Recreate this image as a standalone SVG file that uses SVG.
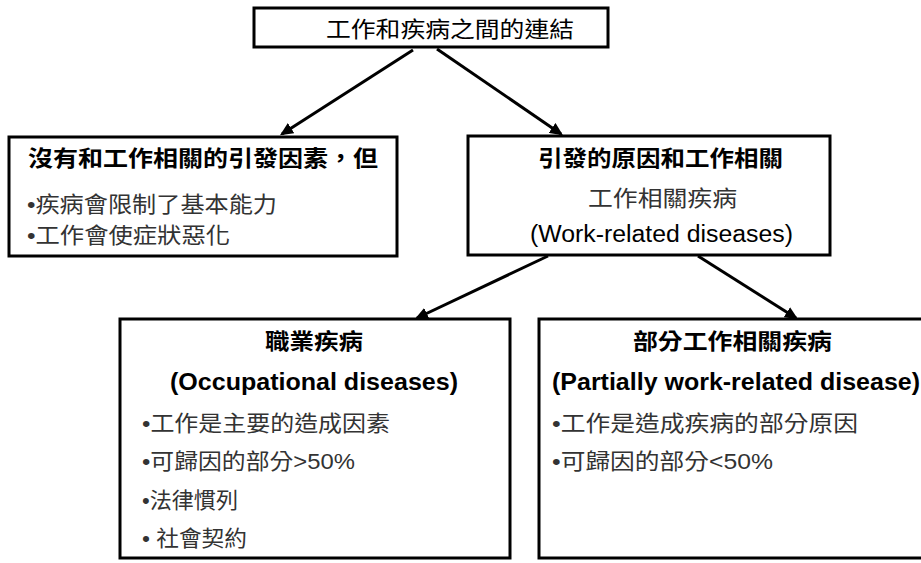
<svg xmlns="http://www.w3.org/2000/svg" width="921" height="563" viewBox="0 0 921 563">
<style>
.box{fill:#fff;stroke:#000;stroke-width:3}
text{font-family:"Liberation Sans","Noto Sans CJK TC",sans-serif;font-size:22px;fill:#000}
.t{font-weight:bold}
.en{font-size:23px}
.b{fill:#333}
.c{stroke:#000;stroke-width:3;fill:none;marker-end:url(#ah)}
</style>
<defs>
<marker id="ah" markerWidth="4.4" markerHeight="4" refX="3.6" refY="2" orient="auto" markerUnits="strokeWidth">
<path d="M0,0 L4.4,2 L0,4 z" fill="#000"/>
</marker>
</defs>
<g id="connectors">
<line class="c" x1="413" y1="50" x2="282" y2="134"/>
<line class="c" x1="437" y1="49" x2="561" y2="134"/>
<line class="c" x1="548" y1="256" x2="417" y2="318"/>
<line class="c" x1="698" y1="256" x2="796" y2="318"/>
</g>
<g id="top">
<rect class="box" x="254" y="8" width="354" height="39"/>
<text x="326" y="37" textLength="248" lengthAdjust="spacingAndGlyphs">工作和疾病之間的連結</text>
</g>
<g id="left">
<rect class="box" x="9" y="137" width="388" height="119"/>
<text class="t" x="28" y="166" textLength="350" lengthAdjust="spacingAndGlyphs">沒有和工作相關的引發因素，但</text>
<text class="b" x="27" y="212" textLength="250" lengthAdjust="spacingAndGlyphs">•疾病會限制了基本能力</text>
<text class="b" x="27" y="243" textLength="203" lengthAdjust="spacingAndGlyphs">•工作會使症狀惡化</text>
</g>
<g id="middle">
<rect class="box" x="468" y="136" width="362" height="119"/>
<text class="t" x="538" y="166" textLength="245" lengthAdjust="spacingAndGlyphs">引發的原因和工作相關</text>
<text class="b" x="588" y="206" textLength="149" lengthAdjust="spacingAndGlyphs">工作相關疾病</text>
<text class="en" x="530" y="242" textLength="263" lengthAdjust="spacingAndGlyphs">(Work-related diseases)</text>
</g>
<g id="occupational">
<rect class="box" x="120" y="319" width="390" height="239"/>
<text class="t" x="265" y="349" textLength="98" lengthAdjust="spacingAndGlyphs">職業疾病</text>
<text class="t en" x="170" y="390" textLength="288" lengthAdjust="spacingAndGlyphs">(Occupational diseases)</text>
<text class="b" x="142" y="431" textLength="248" lengthAdjust="spacingAndGlyphs">•工作是主要的造成因素</text>
<text class="b" x="142" y="469" textLength="213" lengthAdjust="spacingAndGlyphs">•可歸因的部分&gt;50%</text>
<text class="b" x="142" y="508" textLength="96" lengthAdjust="spacingAndGlyphs">•法律慣列</text>
<text class="b" x="142" y="546" textLength="105" lengthAdjust="spacingAndGlyphs">• 社會契約</text>
</g>
<g id="partial">
<rect class="box" x="539" y="319" width="386" height="239"/>
<text class="t" x="633" y="349" textLength="199" lengthAdjust="spacingAndGlyphs">部分工作相關疾病</text>
<text class="t en" x="552" y="390" textLength="368" lengthAdjust="spacingAndGlyphs">(Partially work-related disease)</text>
<text class="b" x="552" y="431" textLength="306" lengthAdjust="spacingAndGlyphs">•工作是造成疾病的部分原因</text>
<text class="b" x="552" y="469" textLength="221" lengthAdjust="spacingAndGlyphs">•可歸因的部分&lt;50%</text>
</g>
</svg>
